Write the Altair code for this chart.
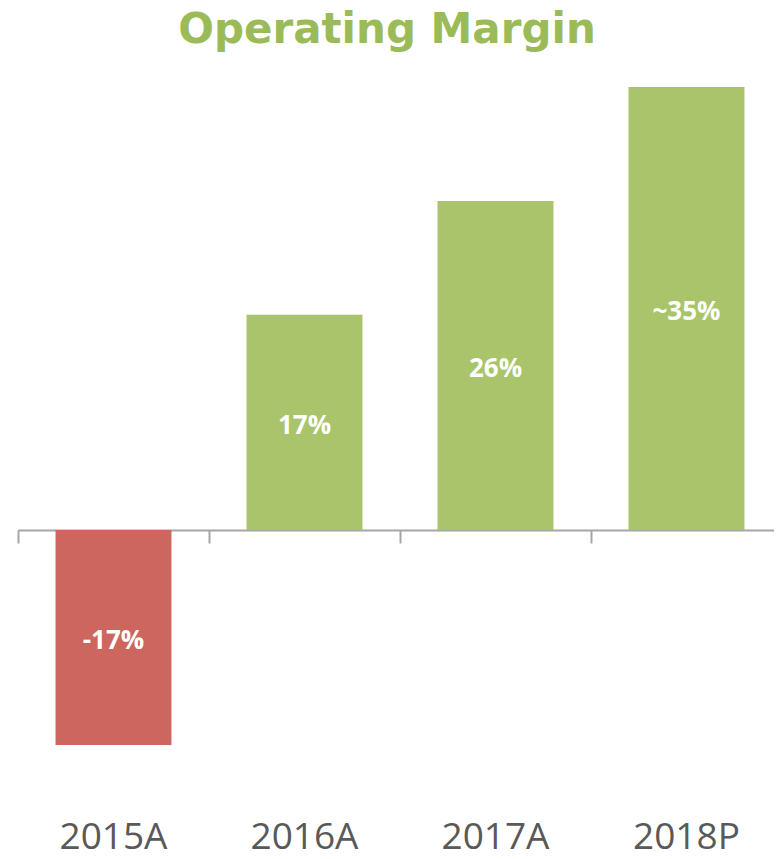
import altair as alt
import pandas as pd

categories = ["2015A", "2016A", "2017A", "2018P"]
values = [-17, 17, 26, 35]
labels = ["-17%", "17%", "26%", "~35%"]
bar_colors = ["#CD665F", "#A9C46A", "#A9C46A", "#A9C46A"]

df = pd.DataFrame({"cat": categories, "value": values, "label": labels})
df["mid"] = df["value"] / 2

xscale = alt.Scale(domain=categories, range=[0, 764], paddingInner=0.393, paddingOuter=0.1965)
yscale = alt.Scale(domain=[-20, 35], nice=False, zero=False)

base = alt.Chart(df)

bars = base.mark_bar().encode(
    x=alt.X("cat:N", scale=xscale, sort=categories,
            axis=alt.Axis(title=None, labels=False, offset=-253, bandPosition=0, tickOffset=-37.5,
                          domainColor="#A6A6A6", domainWidth=2, tickColor="#A6A6A6",
                          tickWidth=2, tickSize=13, grid=False)),
    y=alt.Y("value:Q", scale=yscale, axis=None),
    color=alt.Color("cat:N", scale=alt.Scale(domain=categories, range=bar_colors), legend=None),
)

vals = base.mark_text(color="white", font="Open Sans", fontWeight="bold", fontSize=26,
                      baseline="middle", align="center", dy=4).encode(
    x=alt.X("cat:N", scale=xscale, sort=categories),
    y=alt.Y("mid:Q", scale=yscale),
    text="label:N",
)

cat_labels = base.mark_text(color="#595959", font="Open Sans", fontSize=37,
                            baseline="alphabetic", align="center").encode(
    x=alt.X("cat:N", scale=xscale, sort=categories),
    y=alt.value(762),
    text="cat:N",
)

chart = alt.layer(bars, vals, cat_labels).properties(
    width=756,
    height=696,
    padding={"left": 10, "right": 0, "top": 79, "bottom": 68},
    autosize=alt.AutoSizeParams(type="none"),
    title=alt.TitleParams("Operating Margin", font="DejaVu Sans", fontWeight="bold",
                          fontSize=42, color="#9BBB59", anchor="middle", offset=35, dx=-9),
).configure_view(stroke=None)

chart.save("out.html", embed_options={"renderer": "svg", "actions": False})
